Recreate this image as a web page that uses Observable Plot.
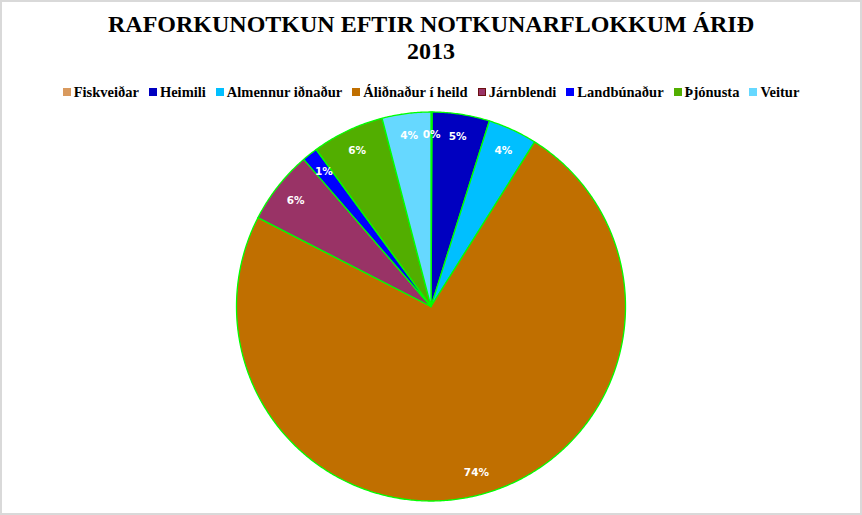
<!DOCTYPE html>
<html>
<head>
<meta charset="utf-8">
<script src="https://cdn.jsdelivr.net/npm/d3@7"></script>
<script src="https://cdn.jsdelivr.net/npm/@observablehq/plot@0.6"></script>
<style>
  html, body { margin: 0; padding: 0; background: #fff; }
  #wrap { position: relative; width: 862px; height: 515px; overflow: hidden; background: #fff; }
  #frame { position: absolute; left: 0; top: 0; width: 862px; height: 515px; box-sizing: border-box; border: 2px solid #d9d9d9; pointer-events: none; }
  #title { position: absolute; left: 0; top: 11px; width: 862px; text-align: center; font-family: "Liberation Serif", "Times New Roman", serif; font-weight: bold; font-size: 24px; line-height: 27px; color: #000; }
  #legend { position: absolute; left: 0; top: 84px; width: 862px; display: flex; justify-content: center; gap: 10px; font-family: "Liberation Serif", "Times New Roman", serif; font-weight: bold; font-size: 14.5px; line-height: 16px; color: #000; }
  #legend .item { display: flex; align-items: center; white-space: nowrap; }
  #legend .sw { width: 8px; height: 8px; margin-right: 3px; box-sizing: border-box; }
  #chart { position: absolute; left: 0; top: 106px; }
</style>
</head>
<body>
<div id="wrap">
  <div id="title">RAFORKUNOTKUN EFTIR NOTKUNARFLOKKUM ÁRIÐ<br>2013</div>
  <div id="legend"></div>
  <div id="chart"></div>
  <div id="frame"></div>
</div>
<script>
// Data (percent shares), clockwise from 12 o'clock
const categories = ["Fiskveiðar", "Heimili", "Almennur iðnaður", "Áliðnaður í heild", "Járnblendi", "Landbúnaður", "Þjónusta", "Veitur"];
const shares = [0.1, 4.75, 4.1, 73.6, 6.1, 1.3, 6.0, 4.05];
const labels = ["0%", "5%", "4%", "74%", "6%", "1%", "6%", "4%"];
const colors = ["#D99A5E", "#0000C0", "#00BFFF", "#C06F00", "#993366", "#0000FF", "#52AE00", "#66D8FF"];
const swatchBorders = [null, null, null, null, "#6B1010", null, null, null];

// Legend
const legend = document.getElementById("legend");
categories.forEach((c, i) => {
  const it = document.createElement("div");
  it.className = "item";
  const sw = document.createElement("span");
  sw.className = "sw";
  sw.style.background = colors[i];
  if (swatchBorders[i]) sw.style.border = "1px solid " + swatchBorders[i];
  const tx = document.createElement("span");
  tx.textContent = c;
  it.appendChild(sw); it.appendChild(tx);
  legend.appendChild(it);
});

// Pie geometry built from the shares
const data = categories.map((name, i) => ({name, value: shares[i], label: labels[i]}));
const arcs = d3.pie().sort(null).value(d => d.value)(data);
const polys = [];
for (const a of arcs) {
  const name = a.data.name;
  polys.push({name, x: 0, y: 0});
  const n = Math.max(2, Math.ceil((a.endAngle - a.startAngle) / (Math.PI / 360)));
  for (let k = 0; k <= n; k++) {
    const t = a.startAngle + (a.endAngle - a.startAngle) * k / n;
    polys.push({name, x: Math.sin(t), y: Math.cos(t)});
  }
  polys.push({name, x: 0, y: 0});
}
const lr = 0.885;
const labelPts = arcs.map(a => {
  const m = (a.startAngle + a.endAngle) / 2;
  return {name: a.data.name, label: a.data.label, x: lr * Math.sin(m), y: lr * Math.cos(m)};
});

const R = 194.5;
const cx = 430.5, cy = 200;
const W = 862, H = 400;
const plot = Plot.plot({
  width: W,
  height: H,
  marginLeft: cx - R,
  marginRight: W - cx - R,
  marginTop: cy - R,
  marginBottom: H - cy - R,
  x: {domain: [-1, 1], axis: null},
  y: {domain: [-1, 1], axis: null},
  color: {domain: categories, range: colors},
  style: {background: "transparent", overflow: "visible"},
  marks: [
    Plot.line(polys, {x: "x", y: "y", z: "name", fill: "name", stroke: "#00FF00", strokeWidth: 1.3, strokeLinejoin: "round", curve: "linear"}),
    Plot.text(labelPts, {x: "x", y: "y", text: "label", fill: "white", fontWeight: "bold", fontSize: 10.5, fontFamily: "DejaVu Sans, Verdana, sans-serif"})
  ]
});
document.getElementById("chart").appendChild(plot);
</script>
</body>
</html>
